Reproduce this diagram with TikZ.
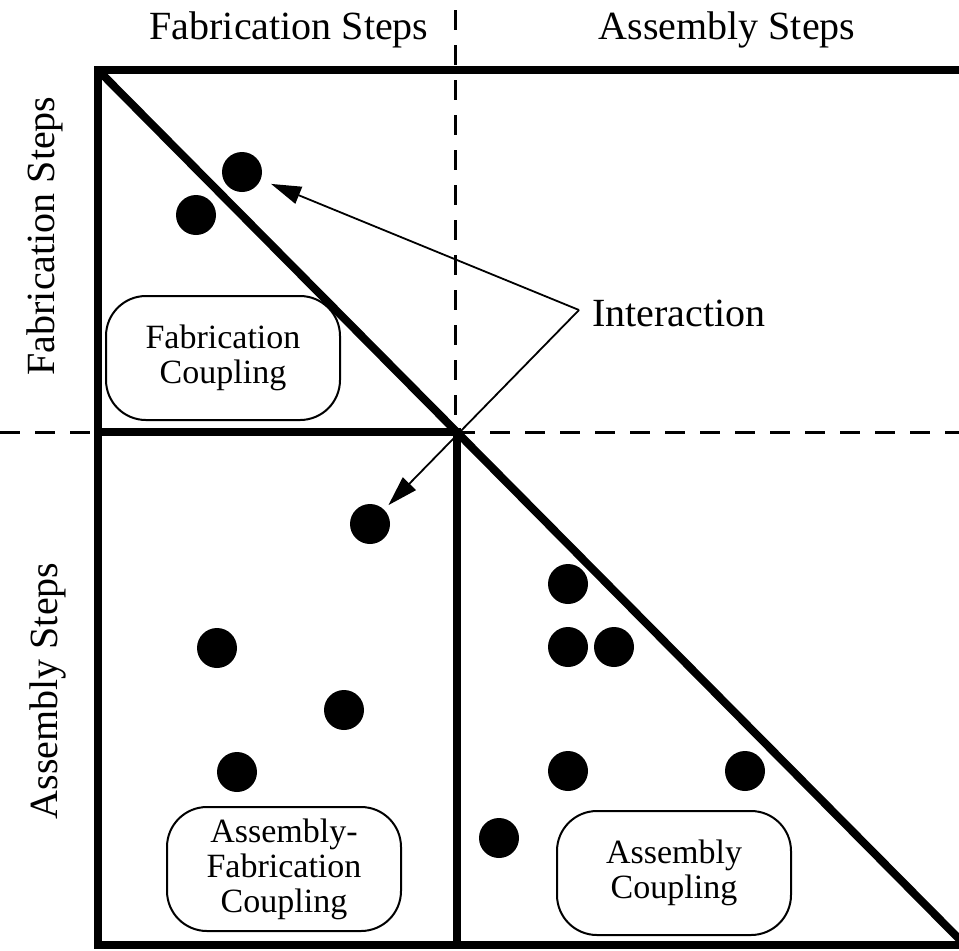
\documentclass[tikz,border=0pt]{standalone}
\usepackage{fontspec}
\setmainfont{Liberation Serif}
\usetikzlibrary{arrows.meta}
\begin{document}
\begin{tikzpicture}[x=0.5pt,y=-0.5pt,
  frame/.style={line width=4pt},
  guide/.style={line width=1.5pt, dash pattern=on 10pt off 7.5pt},
  dot/.style={circle, fill=black, inner sep=0pt, minimum size=20pt},
  region/.style={draw, line width=1pt, rounded corners=20pt, minimum width=117pt,
    minimum height=62pt, align=center, inner sep=2pt,
    font=\fontsize{17}{17.5}\selectfont},
  axis/.style={inner sep=0pt, font=\fontsize{20}{20}\selectfont},
  pointer/.style={line width=0.9pt, -{Triangle[length=15pt,width=9pt]}}
]
\useasboundingbox (0,0) rectangle (959,950);
\clip (0,0) rectangle (959,950);

% dashed quadrant guides
\draw[guide] (455,10) -- (455,432);
\draw[guide] (0,432) -- (959,432);

% heavy frame and triangular split
\draw[frame] (975,70) -- (98,70) -- (98,945) -- (975,945);
\draw[frame] (98,70) -- (980,960);
\draw[frame] (98,432) -- (457,432) -- (457,945);

% axis titles
\node[axis] (colfab) at (289,30) {Fabrication Steps};
\node[axis] (colasm) at (727,30) {Assembly Steps};
\node[axis, rotate=90] (rowfab) at (45,236) {Fabrication Steps};
\node[axis, rotate=90] (rowasm) at (48,691) {Assembly Steps};

% coupling regions
\node[region] (fabc) at (223,358) {Fabrication\\Coupling};
\node[region] (afc) at (284,869) {Assembly-\\Fabrication\\Coupling};
\node[region] (asc) at (674,873) {Assembly\\Coupling};

% interactions
\node[dot] (d1) at (242,172) {};
\node[dot] (d2) at (196,215) {};
\node[dot] (d3) at (370,524) {};
\node[dot] (d4) at (568,584) {};
\node[dot] (d5) at (568,647) {};
\node[dot] (d6) at (614,647) {};
\node[dot] (d7) at (217,648) {};
\node[dot] (d8) at (344,710) {};
\node[dot] (d9) at (237,772) {};
\node[dot] (d10) at (568,771) {};
\node[dot] (d11) at (745,771) {};
\node[dot] (d12) at (499,838) {};

% interaction label and pointers
\node[axis, anchor=west] (inter) at (592,313) {Interaction};
\coordinate (apex) at (579,310);
\draw[pointer, shorten >=5.5pt] (apex) -- (d1);
\draw[pointer, shorten >=3pt] (apex) -- (d3);
\end{tikzpicture}
\end{document}
